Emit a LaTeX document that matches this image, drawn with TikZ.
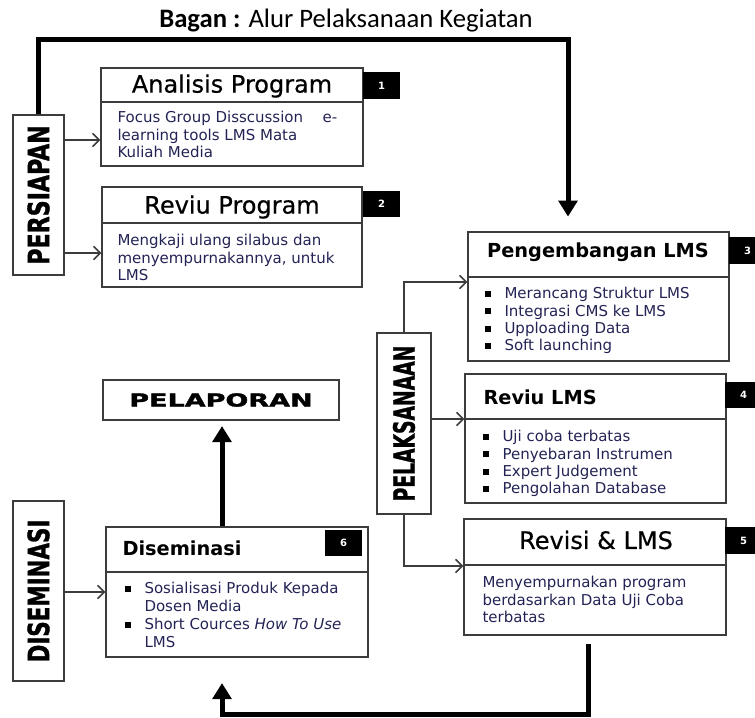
\documentclass[tikz,border=0pt]{standalone}
\usepackage{fontspec}
\setmainfont{DejaVu Sans}
\newfontfamily\captionfont{Carlito}
\newfontfamily\phasefont[FakeBold=1.2]{DejaVu Sans Condensed Bold}
\newfontfamily\blackfont[FakeBold=1.5]{DejaVu Sans Bold}
\newfontfamily\titlefont[FakeBold=0.5]{DejaVu Sans}
\usetikzlibrary{arrows.meta,fit,positioning}

\definecolor{bodyink}{RGB}{35,35,85}
\definecolor{boxline}{RGB}{60,60,60}

\tikzset{every picture/.style={line width=0.75pt}}
\tikzset{
  box/.style={draw=boxline, line width=1.1pt, inner sep=0pt, fit={#1}},
  divider/.style={draw=boxline, line width=1.1pt},
  phase/.style={draw=boxline, line width=1.1pt, inner sep=0pt, fit={#1}},
  phasetext/.style={rotate=90, inner sep=0pt, font=\phasefont\fontsize{22}{22}\selectfont},
  bigtitle/.style={inner sep=0pt, font=\titlefont\fontsize{18}{20}\selectfont},
  smalltitle/.style={inner sep=0pt, font=\bfseries\fontsize{14.5}{16}\selectfont},
  bodytext/.style={inner sep=0pt, align=left, text=bodyink, font=\fontsize{11.25}{13}\selectfont},
  badge/.style={fill=black, text=white, inner sep=0pt, minimum width=27.75pt, minimum height=20pt, font=\bfseries\fontsize{7.5}{7.5}\selectfont},
  arr/.style={draw=boxline, line width=1.1pt, -{Straight Barb[length=5pt,width=10pt]}},
  bigarr/.style={line width=3.75pt, -{Triangle[length=12pt,width=14pt]}},
}
\newcommand{\sq}{\makebox[15pt][l]{\color{black}\rule[1.5pt]{4.5pt}{4.5pt}}}

\begin{document}
\begin{tikzpicture}[x=0.75pt,y=0.75pt,yscale=-1,xscale=1]
\useasboundingbox (0,0) rectangle (755,717);

% Title
\node[inner sep=0pt, font=\captionfont\fontsize{20}{22}\selectfont] (bagan) at (346,21) {\bfseries Bagan :\mdseries{} Alur Pelaksanaan Kegiatan};

%% PERSIAPAN
\node[phase={(13,115) (64,275)}] (persiapan) {};
\node[phasetext] at (persiapan.center) {\scalebox{0.84}[1]{PERSIAPAN}};

% Analisis Program
\node[box={(101,68) (363,166)}] (analisis) {};
\draw[divider] (analisis.west |- 0,102) -- (analisis.east |- 0,102);
\node[bigtitle] (analisis-t) at (232,86) {Analisis Program};
\node[bodytext, anchor=north west] (analisis-b) at (117,111) {Focus Group Disscussion\hspace{1.3em}e-\\learning tools LMS Mata\\Kuliah Media};
\node[badge] (no1) at (381.5,85.5) {1};

% Reviu Program
\node[box={(102,187) (362,287)}] (reviuprog) {};
\draw[divider] (reviuprog.west |- 0,223) -- (reviuprog.east |- 0,223);
\node[bigtitle] (reviuprog-t) at (232,207) {Reviu Program};
\node[bodytext, anchor=north west] (reviuprog-b) at (117,234) {Mengkaji ulang silabus dan\\menyempurnakannya, untuk\\LMS};
\node[badge] (no2) at (381.5,204) {2};

\draw[arr] (persiapan.east |- 0,140) -- (analisis.west |- 0,140);
\draw[arr] (persiapan.east |- 0,253) -- (reviuprog.west |- 0,253);

%% PELAKSANAAN
\node[phase={(377,333) (431,514)}] (pelaksanaan) {};
\node[phasetext] at (pelaksanaan.center) {\scalebox{0.71}[1]{PELAKSANAAN}};

% Pengembangan LMS
\node[box={(468,232) (729,361)}] (pengembangan) {};
\draw[divider] (pengembangan.west |- 0,277) -- (pengembangan.east |- 0,277);
\node[smalltitle] (pengembangan-t) at (598,252) {Pengembangan LMS};
\node[bodytext, anchor=north west] (pengembangan-b) at (484,287) {\sq Merancang Struktur LMS\\\sq Integrasi CMS ke LMS\\\sq Upploading Data\\\sq Soft launching};
\node[badge] (no3) at (747.5,250.5) {3};

% Reviu LMS
\node[box={(465,374) (726,503)}] (reviulms) {};
\draw[divider] (reviulms.west |- 0,419) -- (reviulms.east |- 0,419);
\node[smalltitle, anchor=west] (reviulms-t) at (483,397) {Reviu LMS};
\node[bodytext, anchor=north west] (reviulms-b) at (482,430) {\sq Uji coba terbatas\\\sq Penyebaran Instrumen\\\sq Expert Judgement\\\sq Pengolahan Database};
\node[badge] (no4) at (743.5,395) {4};

% Revisi & LMS
\node[box={(464,519) (726,635)}] (revisi) {};
\draw[divider] (revisi.west |- 0,565) -- (revisi.east |- 0,565);
\node[bigtitle] (revisi-t) at (596,540) {Revisi \& LMS};
\node[bodytext, anchor=north west] (revisi-b) at (482,576) {Menyempurnakan program\\berdasarkan Data Uji Coba\\terbatas};
\node[badge] (no5) at (743.5,540.5) {5};

\draw[arr] (pelaksanaan.north) |- (pengembangan.west |- 0,282);
\draw[arr] (pelaksanaan.east |- 0,419) -- (reviulms.west |- 0,419);
\draw[arr] (pelaksanaan.south) |- (revisi.west |- 0,566);

%% PELAPORAN
\node[box={(103,380) (339,420)}] (pelaporan) {};
\node[inner sep=0pt, font=\blackfont\fontsize{13.5}{14}\selectfont] (pelaporan-t) at (pelaporan.center) {\scalebox{1.5}[1]{PELAPORAN}};

%% DISEMINASI
\node[phase={(13,501) (64,681)}] (diseminasi-p) {};
\node[phasetext] at (diseminasi-p.center) {\scalebox{0.81}[1]{DISEMINASI}};

% Diseminasi
\node[box={(106,527) (368,657)}] (diseminasi) {};
\draw[divider] (diseminasi.west |- 0,572) -- (diseminasi.east |- 0,572);
\node[smalltitle, anchor=west] (diseminasi-t) at (122,548) {Diseminasi};
\node[bodytext, anchor=north west, font=\fontsize{11.25}{13.5}\selectfont] (diseminasi-b) at (124,582) {\sq Sosialisasi Produk Kepada\\\hspace*{15pt}Dosen Media\\\sq Short Cources \textit{How To Use}\\\hspace*{15pt}LMS};
\node[badge] (no6) at (343.5,543) {6};

\draw[arr] (diseminasi-p.east |- 0,592) -- (diseminasi.west |- 0,592);

%% thick flow lines
\coordinate (topleft) at (persiapan.north |- 0,40);
\coordinate (topright) at (568,40);
\draw[bigarr, shorten >=11pt] (persiapan.north) -- (topleft) -- (topright) -- (pengembangan.north -| topright);

\coordinate (botright) at (588,714);
\coordinate (botleft) at (222,714);
\draw[bigarr, shorten <=6pt, shorten >=19pt] (revisi.south -| botright) -- (botright) -- (botleft) -- (diseminasi.south -| botleft);

\draw[bigarr, shorten >=4pt] (diseminasi.north -| botleft) -- (pelaporan.south -| botleft);

\end{tikzpicture}
\end{document}
